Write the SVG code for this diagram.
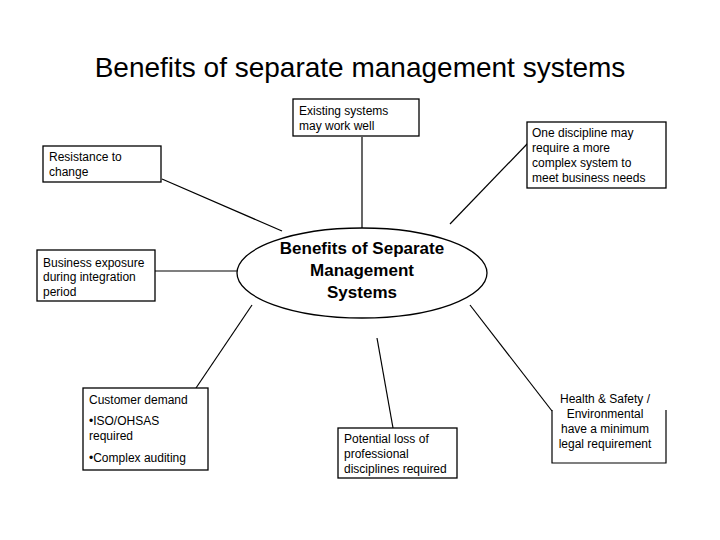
<svg xmlns="http://www.w3.org/2000/svg" width="720" height="540" viewBox="0 0 720 540">
<style>
.box{fill:#fff;stroke:#000;stroke-width:1.3}
.t{font-family:"Liberation Sans",Arial,sans-serif;font-size:12px;fill:#000}
.c{stroke:#000;stroke-width:1.2;fill:none}
</style>
<rect width="720" height="540" fill="#fff"/>
<text x="360" y="77" text-anchor="middle" font-family="Liberation Sans, Arial, sans-serif" font-size="28" fill="#000">Benefits of separate management systems</text>
<g id="connectors">
<line class="c" x1="362" y1="137" x2="362" y2="228"/>
<line class="c" x1="162" y1="179" x2="282" y2="231"/>
<line class="c" x1="155" y1="271" x2="237" y2="271"/>
<line class="c" x1="196" y1="388" x2="252" y2="305"/>
<line class="c" x1="377" y1="338" x2="393" y2="428"/>
<line class="c" x1="470" y1="305" x2="552" y2="411"/>
<line class="c" x1="450" y1="224" x2="529" y2="142"/>
</g>
<g id="center">
<ellipse class="box" cx="362" cy="273" rx="125" ry="45"/>
<text x="362" y="254" text-anchor="middle" font-family="Liberation Sans, Arial, sans-serif" font-size="17" font-weight="bold">Benefits of Separate</text>
<text x="362" y="276" text-anchor="middle" font-family="Liberation Sans, Arial, sans-serif" font-size="17" font-weight="bold">Management</text>
<text x="362" y="298" text-anchor="middle" font-family="Liberation Sans, Arial, sans-serif" font-size="17" font-weight="bold">Systems</text>
</g>
<g id="existing">
<rect class="box" x="293" y="99" width="126" height="37"/>
<text class="t" x="299" y="115">Existing systems</text>
<text class="t" x="299" y="130">may work well</text>
</g>
<g id="resistance">
<rect class="box" x="43" y="146" width="118" height="36"/>
<text class="t" x="49" y="161">Resistance to</text>
<text class="t" x="49" y="176">change</text>
</g>
<g id="business">
<rect class="box" x="37" y="250" width="118" height="51"/>
<text class="t" x="43" y="267">Business exposure</text>
<text class="t" x="43" y="281">during integration</text>
<text class="t" x="43" y="296">period</text>
</g>
<g id="customer">
<rect class="box" x="83" y="388" width="125" height="82"/>
<text class="t" x="89" y="404">Customer demand</text>
<text class="t" x="89" y="425">•ISO/OHSAS</text>
<text class="t" x="89" y="440">required</text>
<text class="t" x="89" y="462">•Complex auditing</text>
</g>
<g id="potential">
<rect class="box" x="338" y="428" width="119" height="50"/>
<text class="t" x="344" y="443">Potential loss of</text>
<text class="t" x="344" y="458">professional</text>
<text class="t" x="344" y="473">disciplines required</text>
</g>
<g id="health">
<path class="c" d="M552,410 V463 H666 V410" stroke-width="1.3"/>
<text class="t" x="605" y="403" text-anchor="middle">Health &amp; Safety /</text>
<text class="t" x="605" y="418" text-anchor="middle">Environmental</text>
<text class="t" x="605" y="433" text-anchor="middle">have a minimum</text>
<text class="t" x="605" y="448" text-anchor="middle">legal requirement</text>
</g>
<g id="discipline">
<rect class="box" x="527" y="122" width="139" height="66"/>
<text class="t" x="532" y="137">One discipline may</text>
<text class="t" x="532" y="152">require a more</text>
<text class="t" x="532" y="167">complex system to</text>
<text class="t" x="532" y="182">meet business needs</text>
</g>
</svg>
